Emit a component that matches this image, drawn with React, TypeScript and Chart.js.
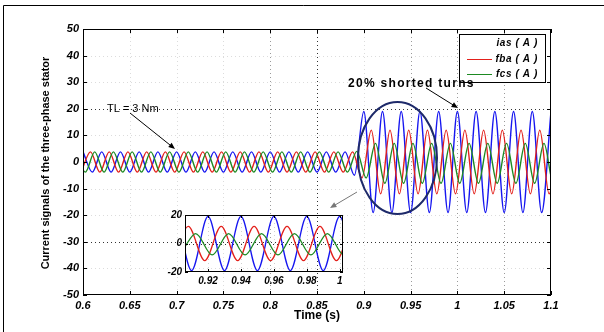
import React, { useEffect, useRef } from "react";
import { Chart, registerables } from "chart.js";

Chart.register(...registerables);

const FONT = '"Liberation Sans", Arial, sans-serif';

// Main axes
const X_MIN = 0.6;
const X_MAX = 1.1;
const X_STEP = 0.05;
const Y_MIN = -50;
const Y_MAX = 50;
const Y_STEP = 10;

// Inset axes
const INSET_X_MIN = 0.906;
const INSET_X_MAX = 1.002;
const INSET_X_STEP = 0.02;
const INSET_Y_MIN = -20;
const INSET_Y_MAX = 20;
const INSET_Y_STEP = 20;

const SERIES_LABELS = ["ias ( A )", "fba ( A )", "fcs ( A )"];
const SERIES_COLORS = ["#1616f0", "#e3201b", "#1d8a22"];

// Each series is given by its successive extrema (peak / trough values, A),
// read from the picture; extrema are half a 50 Hz period apart.
const HALF_PERIOD = 0.01;
const BLUE_START = 0.6;
const RED_START = 0.598;
const GREEN_START = 0.5925;

const BLUE_EXTREMA = [
  3.8, -3.8, 3.8, -3.8, 3.8, -3.8, 3.8, -3.8, 3.8, -3.8,
  3.8, -3.8, 3.8, -3.8, 3.8, -3.8, 3.8, -3.8, 3.8, -3.8,
  3.8, -3.8, 3.8, -3.8, 3.8, -3.8, 3.8, -3.8, 3.8, -5,
  19, -19, 19, -19, 19, -19, 19, -19, 19, -19,
  19, -19, 19, -19, 19, -19, 19, -19, 19, -19, 19,
];

const RED_EXTREMA = [
  -3.8, 3.8, -3.8, 3.8, -3.8, 3.8, -3.8, 3.8, -3.8, 3.8,
  -3.8, 3.8, -3.8, 3.8, -3.8, 3.8, -3.8, 3.8, -3.8, 3.8,
  -3.8, 3.8, -3.8, 3.8, -3.8, 3.8, -3.8, 3.8, -3.8, 3.8,
  -6, 12, -12, 12, -12, 12, -12, 12, -12, 12,
  -12, 12, -12, 12, -12, 12, -12, 12, -12, 12, -12, 12,
];

const GREEN_EXTREMA = [
  3.8, -3.8, 3.8, -3.8, 3.8, -3.8, 3.8, -3.8, 3.8, -3.8,
  3.8, -3.8, 3.8, -3.8, 3.8, -3.8, 3.8, -3.8, 3.8, -3.8,
  3.8, -3.8, 3.8, -3.8, 3.8, -3.8, 3.8, -3.8, 3.8, -3.8,
  4, -6, 7, -8, 7, -8, 7, -8, 7, -8,
  7, -8, 7, -8, 7, -8, 7, -8, 7, -8, 7, -8, 7,
];

const DARK_GRID_X = [0.85];
const MID_GRID_X = [0.8, 0.95, 1.0, 1.05];
const DARK_GRID_Y = [20, -30];

function toPoints(start: number, values: number[]) {
  return values.map((v, i) => ({ x: start + i * HALF_PERIOD, y: v }));
}

function makeDatasets(width: number) {
  const starts = [BLUE_START, RED_START, GREEN_START];
  const vals = [BLUE_EXTREMA, RED_EXTREMA, GREEN_EXTREMA];
  return vals.map((v, i) => ({
    label: SERIES_LABELS[i],
    data: toPoints(starts[i], v),
    borderColor: SERIES_COLORS[i],
    backgroundColor: SERIES_COLORS[i],
    borderWidth: width,
    pointRadius: 0,
    cubicInterpolationMode: "monotone" as const,
    fill: false,
    clip: 0,
    order: 3 - i,
  }));
}

const fmt = (v: any) => String(Number(Number(v).toFixed(4)));

function near(a: number, list: number[]) {
  return list.some((b) => Math.abs(a - b) < 1e-6);
}

function arrow(ctx: CanvasRenderingContext2D, x1: number, y1: number, x2: number, y2: number, color: string, head: number) {
  const ang = Math.atan2(y2 - y1, x2 - x1);
  ctx.save();
  ctx.strokeStyle = color;
  ctx.fillStyle = color;
  ctx.lineWidth = 1;
  ctx.beginPath();
  ctx.moveTo(x1, y1);
  ctx.lineTo(x2 - Math.cos(ang) * head * 0.8, y2 - Math.sin(ang) * head * 0.8);
  ctx.stroke();
  ctx.beginPath();
  ctx.moveTo(x2, y2);
  ctx.lineTo(x2 - head * Math.cos(ang - 0.4), y2 - head * Math.sin(ang - 0.4));
  ctx.lineTo(x2 - head * Math.cos(ang + 0.4), y2 - head * Math.sin(ang + 0.4));
  ctx.closePath();
  ctx.fill();
  ctx.restore();
}

const mainDecor = {
  id: "mainDecor",
  beforeDatasetsDraw(chart: any) {
    const { ctx, chartArea: a, scales } = chart;
    const x = scales.x;
    const y = scales.y;
    ctx.save();
    ctx.lineWidth = 1;
    ctx.setLineDash([1, 3]);
    x.ticks.forEach((t: any) => {
      if (t.value <= X_MIN + 1e-9 || t.value >= X_MAX - 1e-9) return;
      const px = Math.round(x.getPixelForValue(t.value)) + 0.5;
      ctx.strokeStyle = near(t.value, DARK_GRID_X) ? "#333" : near(t.value, MID_GRID_X) ? "#9a9a9a" : "#dcdcdc";
      ctx.beginPath();
      ctx.moveTo(px, a.top);
      ctx.lineTo(px, a.bottom);
      ctx.stroke();
    });
    y.ticks.forEach((t: any) => {
      if (t.value <= Y_MIN || t.value >= Y_MAX) return;
      const py = Math.round(y.getPixelForValue(t.value)) + 0.5;
      ctx.strokeStyle = near(t.value, DARK_GRID_Y) ? "#333" : "#dcdcdc";
      ctx.beginPath();
      ctx.moveTo(a.left, py);
      ctx.lineTo(a.right, py);
      ctx.stroke();
    });
    ctx.restore();
  },
  afterDraw(chart: any) {
    const { ctx, chartArea: a, scales } = chart;
    const x = scales.x;
    const y = scales.y;
    ctx.save();
    // axes box
    ctx.strokeStyle = "#000";
    ctx.lineWidth = 1;
    ctx.strokeRect(a.left + 0.5, a.top + 0.5, a.right - a.left - 1, a.bottom - a.top - 1);
    // inward ticks
    const tl = 4;
    ctx.beginPath();
    x.ticks.forEach((t: any) => {
      const px = Math.round(x.getPixelForValue(t.value)) + 0.5;
      ctx.moveTo(px, a.bottom);
      ctx.lineTo(px, a.bottom - tl);
      ctx.moveTo(px, a.top);
      ctx.lineTo(px, a.top + tl);
    });
    y.ticks.forEach((t: any) => {
      const py = Math.round(y.getPixelForValue(t.value)) + 0.5;
      ctx.moveTo(a.left, py);
      ctx.lineTo(a.left + tl, py);
      ctx.moveTo(a.right, py);
      ctx.lineTo(a.right - tl, py);
    });
    ctx.stroke();

    // outer figure frame (top and left visible)
    ctx.beginPath();
    ctx.moveTo(3.5, 332);
    ctx.lineTo(3.5, 5.5);
    ctx.lineTo(604, 5.5);
    ctx.stroke();

    // axis titles
    ctx.fillStyle = "#000";
    ctx.textAlign = "center";
    ctx.textBaseline = "middle";
    ctx.font = `bold 12px ${FONT}`;
    ctx.fillText("Time (s)", (a.left + a.right) / 2, 316);
    ctx.save();
    ctx.translate(46, 163);
    ctx.rotate(-Math.PI / 2);
    ctx.font = `bold 11px ${FONT}`;
    ctx.fillText("Current signals of the three-phase stator", 0, 0);
    ctx.restore();

    // legend
    ctx.fillStyle = "#fff";
    ctx.fillRect(459, 34, 86, 48);
    ctx.strokeStyle = "#000";
    ctx.strokeRect(459.5, 34.5, 86, 48);
    const rows = [43, 59, 74];
    chart.data.datasets.forEach((ds: any, i: number) => {
      if (i > 0) {
        ctx.strokeStyle = ds.borderColor;
        ctx.lineWidth = 1;
        ctx.beginPath();
        ctx.moveTo(467, rows[i] + 0.5);
        ctx.lineTo(492, rows[i] + 0.5);
        ctx.stroke();
      }
      ctx.fillStyle = "#000";
      ctx.textAlign = "right";
      ctx.font = `italic bold 10px ${FONT}`;
      (ctx as any).letterSpacing = "0.6px";
      ctx.fillText(ds.label, 538, rows[i]);
      (ctx as any).letterSpacing = "0px";
    });

    // annotations
    ctx.fillStyle = "#000";
    ctx.textAlign = "left";
    ctx.font = `11px ${FONT}`;
    ctx.fillText("TL = 3 Nm", 107, 109);
    arrow(ctx, 130, 113, 175, 149, "#000", 7);

    ctx.font = `bold 12px ${FONT}`;
    (ctx as any).letterSpacing = "1.3px";
    ctx.fillText("20% shorted turns", 348, 84);
    (ctx as any).letterSpacing = "0px";
    arrow(ctx, 426, 88, 458, 108, "#000", 7);

    arrow(ctx, 357, 192, 330, 208, "#777", 7);

    // fault ellipse
    ctx.strokeStyle = "#1e2a6a";
    ctx.lineWidth = 2;
    ctx.beginPath();
    ctx.ellipse(397.5, 158, 39.5, 56, 0, 0, Math.PI * 2);
    ctx.stroke();
    ctx.restore();
  },
};

const insetDecor = {
  id: "insetDecor",
  beforeDatasetsDraw(chart: any) {
    const { ctx, chartArea: a, scales } = chart;
    const x = scales.x;
    const y = scales.y;
    ctx.save();
    ctx.lineWidth = 1;
    ctx.setLineDash([1, 3]);
    x.ticks.forEach((t: any) => {
      const px = Math.round(x.getPixelForValue(t.value)) + 0.5;
      ctx.strokeStyle = "#d0d0d0";
      ctx.beginPath();
      ctx.moveTo(px, a.top);
      ctx.lineTo(px, a.bottom);
      ctx.stroke();
    });
    const py = Math.round(y.getPixelForValue(0)) + 0.5;
    ctx.strokeStyle = "#333";
    ctx.beginPath();
    ctx.moveTo(a.left, py);
    ctx.lineTo(a.right, py);
    ctx.stroke();
    ctx.restore();
  },
  afterDraw(chart: any) {
    const { ctx, chartArea: a, scales } = chart;
    const x = scales.x;
    const y = scales.y;
    ctx.save();
    ctx.strokeStyle = "#000";
    ctx.lineWidth = 1;
    ctx.strokeRect(a.left + 0.5, a.top + 0.5, a.right - a.left - 1, a.bottom - a.top - 1);
    const tl = 3;
    ctx.beginPath();
    x.ticks.forEach((t: any) => {
      const px = Math.round(x.getPixelForValue(t.value)) + 0.5;
      ctx.moveTo(px, a.bottom);
      ctx.lineTo(px, a.bottom - tl);
      ctx.moveTo(px, a.top);
      ctx.lineTo(px, a.top + tl);
    });
    y.ticks.forEach((t: any) => {
      const py = Math.round(y.getPixelForValue(t.value)) + 0.5;
      ctx.moveTo(a.left, py);
      ctx.lineTo(a.left + tl, py);
      ctx.moveTo(a.right, py);
      ctx.lineTo(a.right - tl, py);
    });
    ctx.stroke();
    ctx.restore();
  },
};

export default function App() {
  const mainRef = useRef<HTMLCanvasElement>(null);
  const insetRef = useRef<HTMLCanvasElement>(null);

  useEffect(() => {
    const tickFont = { family: FONT, size: 11, style: "italic" as const, weight: "bold" as const };
    const main = new Chart(mainRef.current!, {
      type: "line",
      data: { datasets: makeDatasets(1.4) as any },
      options: {
        responsive: false,
        animation: false,
        events: [],
        layout: { padding: { left: 0, top: 29, right: 53, bottom: 0 } },
        plugins: { legend: { display: false }, tooltip: { enabled: false } },
        scales: {
          x: {
            type: "linear",
            min: X_MIN,
            max: X_MAX,
            offset: false,
            grid: { display: false, drawTicks: false },
            border: { display: false },
            ticks: { stepSize: X_STEP, padding: 4, color: "#000", font: tickFont, maxRotation: 0, autoSkip: false, callback: fmt },
            afterFit: (s: any) => { s.height = 37; },
          },
          y: {
            type: "linear",
            min: Y_MIN,
            max: Y_MAX,
            grid: { display: false, drawTicks: false },
            border: { display: false },
            ticks: { stepSize: Y_STEP, padding: 4, color: "#000", font: tickFont, callback: fmt },
            afterFit: (s: any) => { s.width = 83; },
          },
        },
      },
      plugins: [mainDecor],
    });

    const insetFont = { family: FONT, size: 10, style: "italic" as const, weight: "bold" as const };
    const inset = new Chart(insetRef.current!, {
      type: "line",
      data: { datasets: makeDatasets(1.3) as any },
      options: {
        responsive: false,
        animation: false,
        events: [],
        layout: { padding: { left: 0, top: 10, right: 7, bottom: 0 } },
        plugins: { legend: { display: false }, tooltip: { enabled: false } },
        scales: {
          x: {
            type: "linear",
            min: INSET_X_MIN,
            max: INSET_X_MAX,
            offset: false,
            grid: { display: false, drawTicks: false },
            border: { display: false },
            ticks: { stepSize: INSET_X_STEP, includeBounds: false, padding: 3, color: "#000", font: insetFont, maxRotation: 0, autoSkip: false, callback: fmt },
            afterFit: (s: any) => { s.height = 18; },
          },
          y: {
            type: "linear",
            min: INSET_Y_MIN,
            max: INSET_Y_MAX,
            grid: { display: false, drawTicks: false },
            border: { display: false },
            ticks: { stepSize: INSET_Y_STEP, padding: 3, color: "#000", font: insetFont, callback: fmt },
            afterFit: (s: any) => { s.width = 35; },
          },
        },
      },
      plugins: [insetDecor],
    });

    return () => {
      main.destroy();
      inset.destroy();
    };
  }, []);

  return (
    <div style={{ position: "absolute", left: 0, top: 0, width: 604, height: 332, background: "#fff", overflow: "hidden" }}>
      <canvas ref={mainRef} width={604} height={332} style={{ position: "absolute", left: 0, top: 0, width: 604, height: 332 }} />
      <canvas ref={insetRef} width={200} height={85} style={{ position: "absolute", left: 150, top: 205, width: 200, height: 85 }} />
    </div>
  );
}
